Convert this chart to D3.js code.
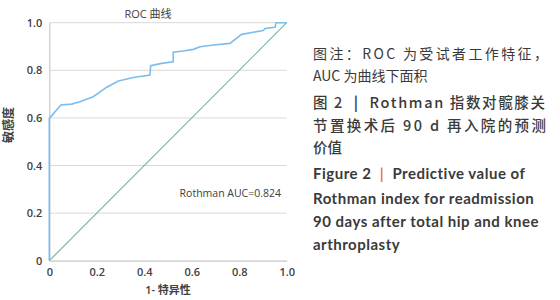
<!DOCTYPE html>
<html>
<head>
<meta charset="utf-8">
<script src="https://cdn.jsdelivr.net/npm/d3@7"></script>
<style>
  body { margin: 0; background: #fff; }
  svg { display: block; }
</style>
</head>
<body>
<script>
let width = 560,
    height = 300;

// ROC curve (1 - specificity, sensitivity)
let fpr = [0, 0, 0.049, 0.094, 0.129, 0.185, 0.242, 0.291, 0.354, 0.424, 0.427, 0.473, 0.522, 0.522,
           0.564, 0.607, 0.635, 0.691, 0.761, 0.810, 0.859, 0.901, 0.909, 0.951, 0.955, 1.0];
let tpr = [0, 0.598, 0.654, 0.658, 0.668, 0.689, 0.729, 0.755, 0.770, 0.780, 0.819, 0.829, 0.836, 0.876,
           0.881, 0.888, 0.899, 0.906, 0.913, 0.951, 0.960, 0.967, 0.976, 0.981, 1.0, 1.0];

let tickValues = [0, 0.2, 0.4, 0.6, 0.8, 1.0];
let tickLabels = ["0", "0.2", "0.4", "0.6", "0.8", "1.0"];

let chartTitle = "ROC 曲线";
let xTitle = "1- 特异性";
let yTitle = "敏感度";
let aucLabel = "Rothman AUC=0.824";

let noteLines = ["图注：ROC 为受试者工作特征，", "AUC 为曲线下面积"];
let cnLines = ["图 2 | Rothman 指数对髋膝关", "节置换术后 90 d 再入院的预测", "价值"];
let enLines = ["Figure 2 | Predictive value of", "Rothman index for readmission",
               "90 days after total hip and knee", "arthroplasty"];

let svg = d3.select("body")
            .append("svg")
            .attr("width", width)
            .attr("height", height);

let xScale = d3.scaleLinear().domain([0, 1]).range([49.3, 286.7]);
let yScale = d3.scaleLinear().domain([0, 1]).range([260.7, 22.7]);

let tickFont = "'Open Sans', 'Noto Sans CJK SC', sans-serif";

// horizontal grid
svg.append("g")
   .selectAll("line")
   .data(tickValues.slice(1))
   .enter()
   .append("line")
   .attr("x1", xScale(0))
   .attr("x2", xScale(1))
   .attr("y1", d => yScale(d))
   .attr("y2", d => yScale(d))
   .attr("stroke", "#d9d9d9")
   .attr("stroke-width", 1);

// axes
let xAxis = d3.axisBottom(xScale).tickValues(tickValues).tickFormat((d, i) => tickLabels[i]).tickSize(0).tickPadding(8);
let yAxis = d3.axisLeft(yScale).tickValues(tickValues).tickFormat((d, i) => tickLabels[i]).tickSize(0).tickPadding(7);

let gx = svg.append("g").attr("transform", "translate(0," + yScale(0) + ")").call(xAxis);
let gy = svg.append("g").attr("transform", "translate(" + xScale(0) + ",0)").call(yAxis);

[gx, gy].forEach(g => {
  g.select(".domain").attr("stroke", "#c8c8c8").attr("stroke-width", 1.2);
  g.selectAll("text")
   .attr("fill", "#404040")
   .style("font-family", tickFont)
   .style("font-size", "11px")
   .style("font-weight", "600");
});

// reference diagonal
svg.append("line")
   .attr("x1", xScale(0)).attr("y1", yScale(0))
   .attr("x2", xScale(1)).attr("y2", yScale(1))
   .attr("stroke", "#72b8ab")
   .attr("stroke-width", 1.2);

// ROC curve
let line = d3.line()
             .x((d, i) => xScale(fpr[i]))
             .y((d, i) => yScale(tpr[i]));

svg.append("path")
   .datum(fpr)
   .attr("d", line)
   .attr("fill", "none")
   .attr("stroke", "#7cbdee")
   .attr("stroke-width", 1.6);

// titles
svg.append("text")
   .attr("x", 148).attr("y", 18)
   .attr("text-anchor", "middle")
   .attr("fill", "#404040")
   .style("font-family", tickFont)
   .style("font-size", "11px")
   .text(chartTitle);

svg.append("text")
   .attr("x", 168).attr("y", 294)
   .attr("text-anchor", "middle")
   .attr("fill", "#404040")
   .style("font-family", tickFont)
   .style("font-size", "11px")
   .style("font-weight", "600")
   .text(xTitle);

svg.append("text")
   .attr("transform", "translate(13,125) rotate(-90)")
   .attr("text-anchor", "middle")
   .attr("fill", "#404040")
   .style("font-family", tickFont)
   .style("font-size", "12px")
   .style("font-weight", "600")
   .text(yTitle);

svg.append("text")
   .attr("x", 281).attr("y", 197)
   .attr("text-anchor", "end")
   .attr("fill", "#404040")
   .style("font-family", tickFont)
   .style("font-size", "10.5px")
   .text(aucLabel);

// caption on the right
let capX = 313;
let capFont = "'Noto Sans CJK SC', sans-serif";

function captionLine(txt, y, fullWidth, weight, family, size, barColor, spacing) {
  let t = svg.append("text")
             .attr("x", capX).attr("y", y)
             .attr("fill", "#3a3a3a")
             .style("font-family", family)
             .style("font-size", size)
             .style("font-weight", weight)
             .style("letter-spacing", spacing || "0px")
             .attr("xml:space", "preserve");
  let parts = txt.split("|");
  if (parts.length > 1) {
    t.append("tspan").text(parts[0] + " ");
    t.append("tspan").attr("fill", barColor).style("font-weight", 700).text("|");
    t.append("tspan").text("  " + parts[1].trim());
  } else {
    t.text(txt);
  }
  if (fullWidth) t.attr("textLength", fullWidth).attr("lengthAdjust", "spacing");
}

captionLine(noteLines[0], 59, 235, 400, capFont, "14px");
captionLine(noteLines[1], 81, null, 400, capFont, "14px");
captionLine(cnLines[0], 108, 232, 500, capFont, "14.5px", "#2f3b55");
captionLine(cnLines[1], 131, 233, 500, capFont, "14.5px");
captionLine(cnLines[2], 153, null, 500, capFont, "14.5px");

let enFont = "Lato, 'Open Sans', sans-serif";
captionLine(enLines[0], 179, null, 700, enFont, "15px", "#e07f1f", "0.5px");
captionLine(enLines[1], 204, null, 700, enFont, "15px", null, "0.5px");
captionLine(enLines[2], 227, null, 700, enFont, "15px", null, "0.5px");
captionLine(enLines[3], 250, null, 700, enFont, "15px", null, "0.5px");
</script>
</body>
</html>
